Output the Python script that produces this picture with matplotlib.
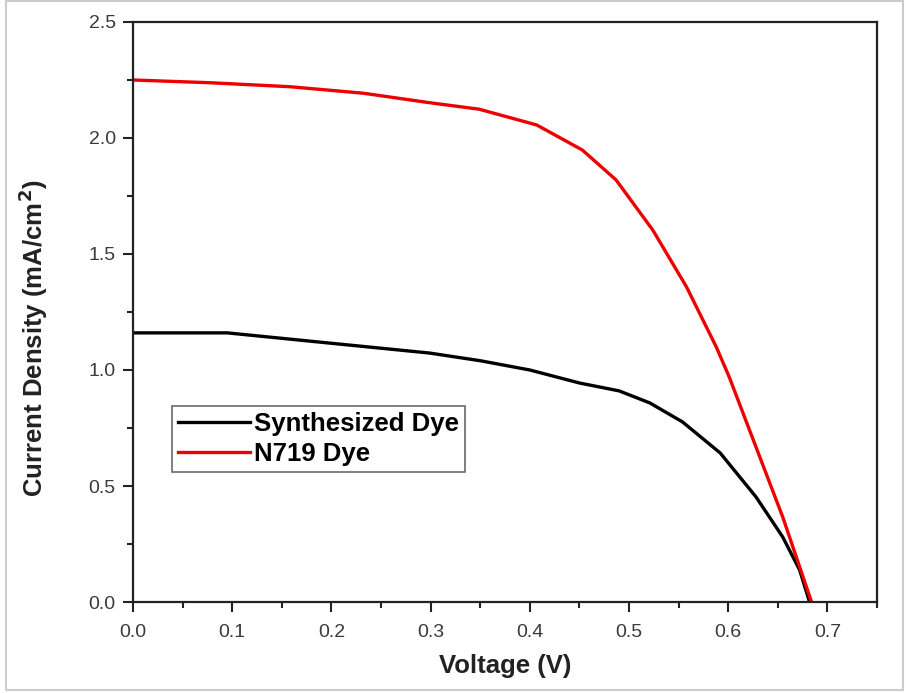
import matplotlib
matplotlib.use("Agg")
import matplotlib.pyplot as plt
from matplotlib.patches import Rectangle
from matplotlib.ticker import MultipleLocator

plt.rcParams['font.family'] = ['Liberation Sans', 'DejaVu Sans']

# Synthesized dye J-V curve
v_syn = [0.0, 0.095, 0.198, 0.299, 0.35, 0.40, 0.45, 0.49, 0.521, 0.554,
         0.592, 0.628, 0.655, 0.672, 0.682]
j_syn = [1.16, 1.16, 1.116, 1.073, 1.04, 1.0, 0.944, 0.91, 0.858, 0.776,
         0.642, 0.453, 0.28, 0.138, 0.0]

# N719 dye J-V curve
v_n719 = [0.0, 0.078, 0.158, 0.232, 0.299, 0.349, 0.407, 0.453, 0.487,
          0.524, 0.558, 0.588, 0.601, 0.628, 0.655, 0.684]
j_n719 = [2.25, 2.238, 2.221, 2.193, 2.152, 2.124, 2.056, 1.948, 1.819,
          1.603, 1.358, 1.099, 0.970, 0.668, 0.366, 0.0]

fig = plt.figure(figsize=(9.06, 6.93), dpi=100)
ax = fig.add_axes([0.1468, 0.1313, 0.8212, 0.8370])

ax.plot(v_syn, j_syn, color='black', lw=2.4, label='Synthesized Dye')
ax.plot(v_n719, j_n719, color='#ee0000', lw=2.4, label='N719 Dye')

ax.set_xlim(0, 0.75)
ax.set_ylim(0, 2.5)
ax.xaxis.set_major_locator(MultipleLocator(0.1))
ax.xaxis.set_minor_locator(MultipleLocator(0.05))
ax.yaxis.set_major_locator(MultipleLocator(0.5))
ax.yaxis.set_minor_locator(MultipleLocator(0.25))
ax.xaxis.set_major_formatter(plt.FormatStrFormatter('%.1f'))
ax.yaxis.set_major_formatter(plt.FormatStrFormatter('%.1f'))

ax.tick_params(which='major', direction='out', length=7.5, width=1.5,
               labelsize=14, labelcolor='#3a3a3a', color='#222222', pad=5)
ax.tick_params(axis='x', which='major', pad=8)
ax.tick_params(which='minor', direction='out', length=4.5, width=1.5,
               color='#222222')
ax.tick_params(top=False, right=False, which='both')
for s in ax.spines.values():
    s.set_linewidth(1.6)
    s.set_color('#222222')

ax.set_xlabel('Voltage (V)', fontsize=18.5, fontweight='bold', color='#222222',
              labelpad=10)
ax.set_ylabel('Current Density (mA/cm$^\\mathbf{2}$)', fontsize=18.5,
              fontweight='bold', color='#222222')
ax.yaxis.set_label_coords(-0.111, 0.455)

leg = ax.legend(loc='upper left', bbox_to_anchor=(0.052, 0.338),
                prop={'weight': 'bold', 'size': 18.5},
                frameon=True, fancybox=False, edgecolor='#444444',
                handlelength=2.8, handletextpad=0.15, borderpad=0.25,
                labelspacing=0.2, borderaxespad=0)
leg.get_frame().set_linewidth(1.2)

fig.patches.append(Rectangle((0.007, 0.004), 0.99, 0.994,
                             transform=fig.transFigure, fill=False,
                             edgecolor='#cccccc', lw=1.5))

fig.savefig('out.png', dpi=100)
